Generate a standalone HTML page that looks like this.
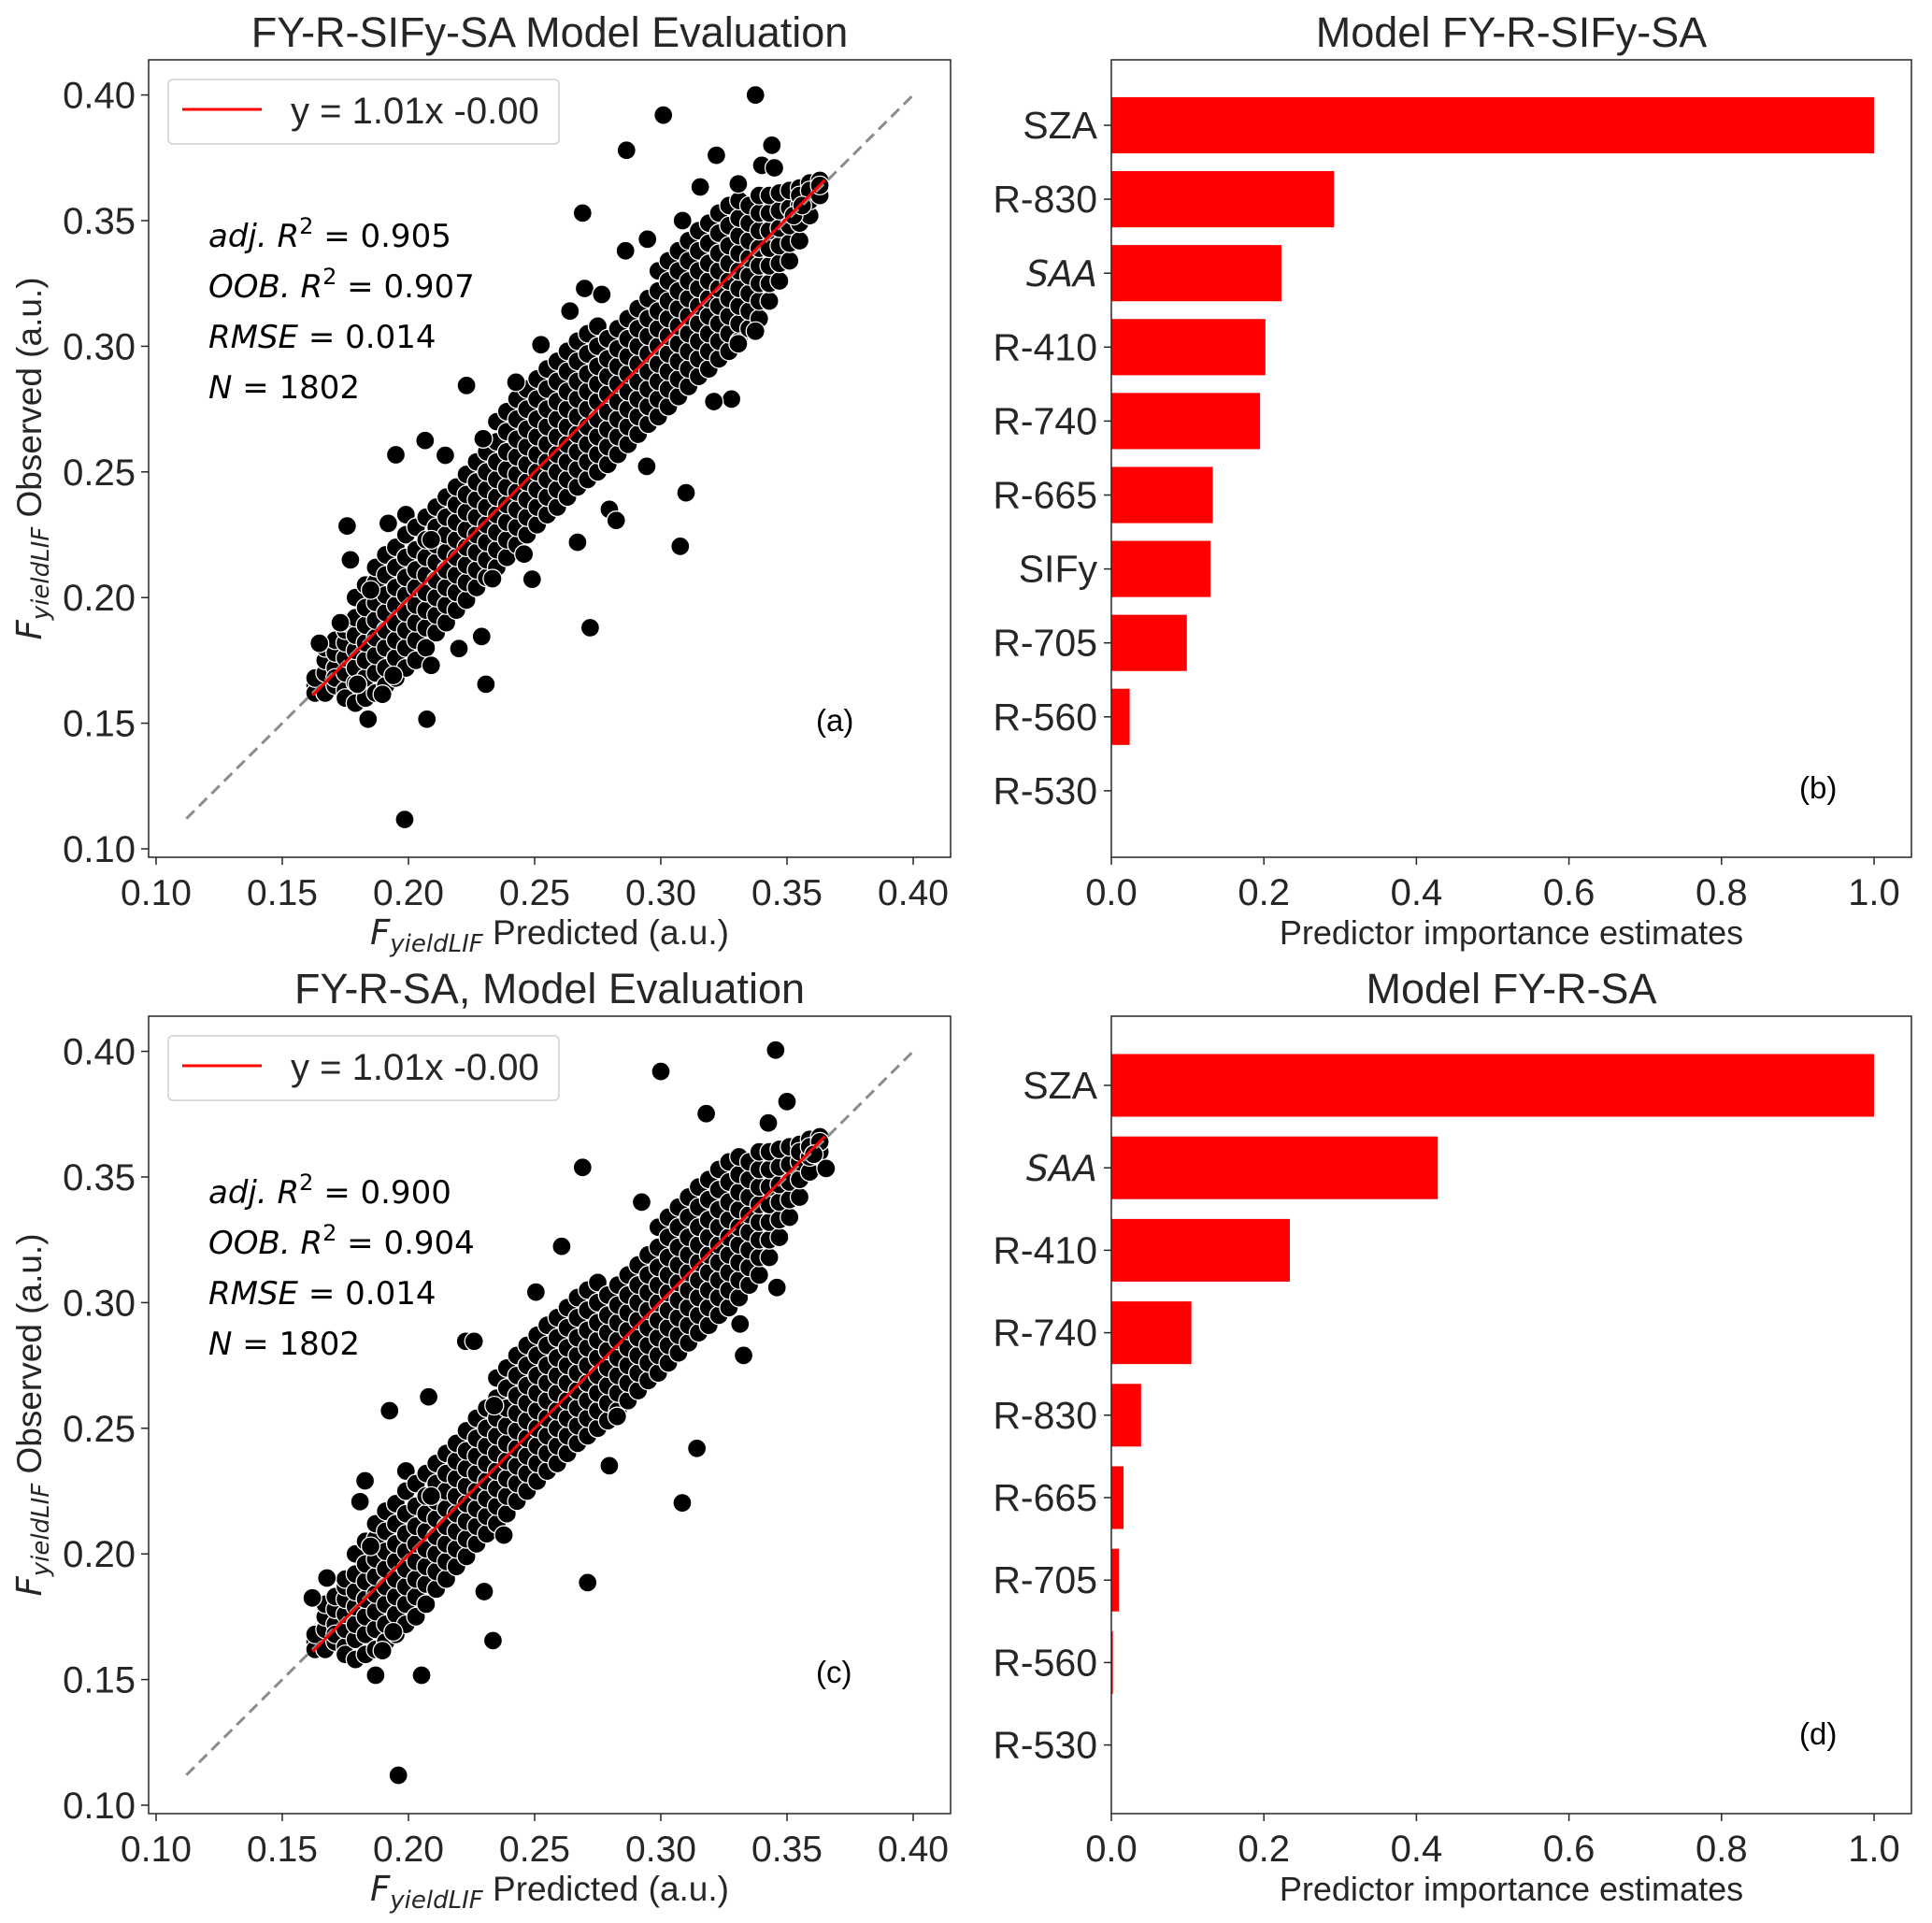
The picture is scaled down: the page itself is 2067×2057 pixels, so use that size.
<!DOCTYPE html>
<html><head><meta charset="utf-8"><style>
html,body{margin:0;padding:0;background:#fff}
svg{display:block;font-family:"Liberation Sans",Arial,sans-serif}
</style></head><body>
<svg id="fig" width="2067" height="2057" viewBox="0 0 2067 2057" xmlns="http://www.w3.org/2000/svg"></svg>
<script>
// ---- data ----
const bandRows = "163:165,162,168|167:162,170,175,180|171:165,172,178,183,168|175:163,170,176,182,187,190,160|179:158,166,172,179,185,192,200|183:160,168,175,182,189,196,205|187:162,170,177,184,191,198,206,212|191:165,172,180,187,194,201,209,217|195:168,176,183,190,197,204,212,220|199:172,180,187,194,201,208,216,225,233|203:175,183,190,197,204,211,219,228|207:180,188,195,202,209,216,223,232|211:186,193,200,207,214,221,228,236|215:190,197,204,211,218,225,232,240|219:195,202,209,216,223,230,237,244|223:199,206,213,220,227,234,241,249|227:204,211,218,225,232,239,246,254|231:208,215,222,229,236,243,250,258|235:212,219,226,233,240,247,254,262,270|239:216,223,230,237,244,251,258,266,274|243:221,228,235,242,249,256,263,271,279|247:225,232,239,246,253,260,267,275,283|251:229,236,243,250,257,264,271,279,287|255:233,240,247,254,261,268,275,283,291|259:236,243,250,257,264,271,278,286,294|263:240,247,254,261,268,275,282,290,298|267:244,251,258,265,272,279,286,294,302|271:247,254,261,268,275,282,289,297,305|275:250,257,264,271,278,285,292,300,308|279:253,260,267,274,281,288,295,303|283:257,264,271,278,285,292,299,307|287:261,268,275,282,289,296,303,311|291:265,272,279,286,293,300,307,315|295:269,276,283,290,297,304,311,319|299:272,279,286,293,300,307,314,322,330|303:276,283,290,297,304,311,318,326,334|307:280,287,294,301,308,315,322,330,338|311:284,291,298,305,312,319,326,334,342|315:288,295,302,309,316,323,330,338,346|319:291,298,305,312,319,326,333,341,349|323:295,302,309,316,323,330,337,345,353|327:298,305,312,319,326,333,340,348,356|331:302,309,316,323,330,337,344,351,358|335:307,314,321,328,335,342,349,356|339:311,318,325,332,339,346,353,360|343:318,325,332,339,346,353,360|347:326,333,340,347,354,361|351:334,341,348,355,362|355:342,349,356,363,360|359:352,358,365,362|363:360,366,364";
const outliersA = [[0.3375,0.40],[0.301,0.392],[0.2864,0.378],[0.344,0.380],[0.322,0.376],[0.340,0.372],[0.345,0.371],[0.269,0.353],[0.286,0.338],[0.2947,0.3426],[0.2698,0.323],[0.2766,0.3206],[0.264,0.314],[0.2525,0.3006],[0.223,0.2844],[0.2426,0.2857],[0.2066,0.2625],[0.195,0.2568],[0.2146,0.2566],[0.1757,0.2285],[0.192,0.2295],[0.177,0.215],[0.2296,0.2632],[0.2944,0.2522],[0.31,0.2417],[0.3077,0.2204],[0.267,0.222],[0.249,0.2073],[0.2458,0.2173],[0.2333,0.2075],[0.272,0.188],[0.22,0.1797],[0.229,0.1845],[0.2307,0.1655],[0.2073,0.1516],[0.184,0.1516],[0.1985,0.1117],[0.1647,0.1818],[0.173,0.190],[0.3375,0.306],[0.3307,0.301],[0.328,0.279],[0.321,0.278],[0.3526,0.352],[0.356,0.356],[0.3307,0.3646],[0.3156,0.3634],[0.3086,0.350],[0.2796,0.2351],[0.2823,0.2307],[0.1897,0.1615],[0.1798,0.1655],[0.209,0.173],[0.194,0.169],[0.185,0.203],[0.209,0.223]];
const outliersC = [[0.3455,0.4005],[0.300,0.392],[0.318,0.3752],[0.350,0.380],[0.3426,0.3715],[0.269,0.3538],[0.2924,0.340],[0.2607,0.3224],[0.2505,0.3042],[0.2227,0.2846],[0.226,0.2846],[0.208,0.2625],[0.1925,0.257],[0.234,0.259],[0.1828,0.2291],[0.1808,0.2208],[0.2378,0.2075],[0.271,0.1886],[0.230,0.185],[0.2335,0.1655],[0.2052,0.1517],[0.187,0.1517],[0.196,0.1119],[0.1619,0.1825],[0.1677,0.1904],[0.3085,0.2203],[0.3143,0.242],[0.3655,0.3534],[0.3606,0.359],[0.2827,0.2547],[0.3314,0.2915],[0.3328,0.279],[0.346,0.306],[0.185,0.203],[0.209,0.223],[0.1897,0.1615],[0.194,0.169],[0.2796,0.2351]];
const scatterTicks = [0.10,0.15,0.20,0.25,0.30,0.35,0.40];
const catsB = ["SZA","R-830","SAA","R-410","R-740","R-665","SIFy","R-705","R-560","R-530"];
const valsB = [1.0,0.292,0.223,0.202,0.195,0.133,0.130,0.099,0.024,0.0];
const catsD = ["SZA","SAA","R-410","R-740","R-830","R-665","R-705","R-560","R-530"];
const valsD = [1.0,0.428,0.234,0.105,0.039,0.016,0.010,0.002,0.0];
const barTicks = [0.0,0.2,0.4,0.6,0.8,1.0];

// ---- helpers ----
const NS="http://www.w3.org/2000/svg";
const svg=document.getElementById('fig');
function mk(tag,attrs,parent,text){const e=document.createElementNS(NS,tag);for(const k in attrs)e.setAttribute(k,attrs[k]);if(text!==undefined)e.textContent=text;(parent||svg).appendChild(e);return e;}
function parseBand(s){const pts=[];s.split('|').forEach(r=>{const [x,ys]=r.split(':');ys.split(',').forEach(y=>pts.push([+x/1000,+y/1000]));});return pts;}
const band=parseBand(bandRows);

function fLabel(parent,x,y,rot,rest,name){
  const t=mk('text',{x:x,y:y,'font-size':37,fill:'#262626','text-anchor':'middle',transform:rot?`rotate(-90 ${x} ${y})`:''},parent);
  
  mk('tspan',{'font-style':'italic','font-family':'DejaVu Sans'},t,'F');
  mk('tspan',{'font-style':'italic','font-family':'DejaVu Sans','font-size':26,dy:8},t,'yieldLIF');
  mk('tspan',{dy:-8},t,' '+rest);
}

function scatterPanel(oy,pts,title,stats,tag){
  const g=mk('g',{});
  
  const L=159,R=1017,T=64+oy,B=917+oy;
  const sx=v=>167+(v-0.10)*2700;
  const sy=v=>908+oy-(v-0.10)*2688;
  const tt=mk('text',{x:(L+R)/2,y:50+oy,'font-size':45,fill:'#262626','text-anchor':'middle'},g,title);
  
  const pg=mk('g',{},g);
  pts.forEach(p=>{const c=mk('circle',{cx:sx(p[0]),cy:sy(p[1]),r:10,fill:'#000',stroke:'#fff','stroke-width':1.3},pg);});
  const d=mk('line',{x1:sx(0.112),y1:sy(0.112),x2:sx(0.40),y2:sy(0.40),stroke:'#8c8c8c','stroke-width':3,'stroke-dasharray':'12 7'},g);
  
  const rl=mk('line',{x1:sx(0.162),y1:sy(1.01*0.162-0.0025),x2:sx(0.365),y2:sy(1.01*0.365-0.0025),stroke:'#ff0000','stroke-width':3},g);
  
  const fr=mk('rect',{x:L,y:T,width:R-L,height:B-T,fill:'none',stroke:'#262626','stroke-width':1.5},g);
  
  scatterTicks.forEach(v=>{
    mk('line',{x1:sx(v),y1:B,x2:sx(v),y2:B+8,stroke:'#262626','stroke-width':1.5},g);
    const a=mk('text',{x:sx(v),y:968+oy,'font-size':39,fill:'#262626','text-anchor':'middle'},g,v.toFixed(2));
    
    mk('line',{x1:L-8,y1:sy(v),x2:L,y2:sy(v),stroke:'#262626','stroke-width':1.5},g);
    const b=mk('text',{x:145,y:sy(v)+14,'font-size':40,fill:'#262626','text-anchor':'end'},g,v.toFixed(2));
    
  });
  fLabel(g,(L+R)/2,1010+oy,false,'Predicted (a.u.)','x-axis-title');
  fLabel(g,44,(T+B)/2,true,'Observed (a.u.)','y-axis-title');
  const lg=mk('g',{},g);
  mk('rect',{x:180,y:85+oy,width:418,height:69,rx:5,fill:'#fff','fill-opacity':0.85,stroke:'#d0d0d0','stroke-width':1.5},lg);
  mk('line',{x1:195,y1:117+oy,x2:280,y2:117+oy,stroke:'#ff0000','stroke-width':3},lg);
  mk('text',{x:311,y:132+oy,'font-size':40,fill:'#262626'},lg,'y = 1.01x -0.00');
  const lines=[['adj.','R','2',' = '+stats[0]],['OOB.','R','2',' = '+stats[1]],['RMSE','','',' = '+stats[2]],['N','','',' = '+stats[3]]];
  lines.forEach((l,i)=>{
    const t=mk('text',{x:223,y:264+oy+i*54,'font-size':34,fill:'#000','font-family':'DejaVu Sans'},g);
    
    mk('tspan',{'font-style':'italic'},t,l[0]+(l[1]?' ':''));
    if(l[1]){mk('tspan',{'font-style':'italic'},t,l[1]);mk('tspan',{'font-size':24,dy:-14},t,l[2]);mk('tspan',{dy:14},t,l[3]);}
    else mk('tspan',{},t,l[3]);
  });
  const pl=mk('text',{x:873,y:(tag==='a'?782:1800),'font-size':33,fill:'#000'},g,'('+tag+')');
  
}

function barPanel(oy,cats,vals,title,tag,letterY,c0,step){
  const g=mk('g',{});
  
  const L=1189,R=2045,T=64+oy,B=917+oy;
  const sx=v=>1189+v*816;
  const sy=i=>c0+i*step;
  const tt=mk('text',{x:(L+R)/2,y:50+oy,'font-size':45,fill:'#262626','text-anchor':'middle'},g,title);
  
  cats.forEach((c,i)=>{
    const h=step*0.76;
    if(vals[i]>0){const r=mk('rect',{x:sx(0),y:sy(i)-h/2,width:sx(vals[i])-sx(0),height:h,fill:'#ff0000'},g);
    }
    mk('line',{x1:L-8,y1:sy(i),x2:L,y2:sy(i),stroke:'#262626','stroke-width':1.5},g);
    const t=mk('text',{x:1174,y:sy(i)+14,'font-size':41,fill:'#262626','text-anchor':'end'},g,c);
    if(c==='SAA'){t.setAttribute('font-style','italic');t.setAttribute('font-family','DejaVu Sans');t.setAttribute('font-size','38');}
    
  });
  const fr=mk('rect',{x:L,y:T,width:R-L,height:B-T,fill:'none',stroke:'#262626','stroke-width':1.5},g);
  
  barTicks.forEach(v=>{
    mk('line',{x1:sx(v),y1:B,x2:sx(v),y2:B+8,stroke:'#262626','stroke-width':1.5},g);
    const a=mk('text',{x:sx(v),y:968+oy,'font-size':40,fill:'#262626','text-anchor':'middle'},g,v.toFixed(1));
    
  });
  const xl=mk('text',{x:(L+R)/2,y:1010+oy,'font-size':36,fill:'#262626','text-anchor':'middle'},g,'Predictor importance estimates');
  
  const pl=mk('text',{x:1925,y:letterY,'font-size':33,fill:'#000'},g,'('+tag+')');
  
}

scatterPanel(0,band.concat(outliersA),'FY-R-SIFy-SA Model Evaluation',['0.905','0.907','0.014','1802'],'a');
barPanel(0,catsB,valsB,'Model FY-R-SIFy-SA','b',854,134,79.1);
scatterPanel(1023,band.concat(outliersC),'FY-R-SA, Model Evaluation',['0.900','0.904','0.014','1802'],'c');
barPanel(1023,catsD,valsD,'Model FY-R-SA','d',1866,1161,88.2);
</script>
</body></html>
